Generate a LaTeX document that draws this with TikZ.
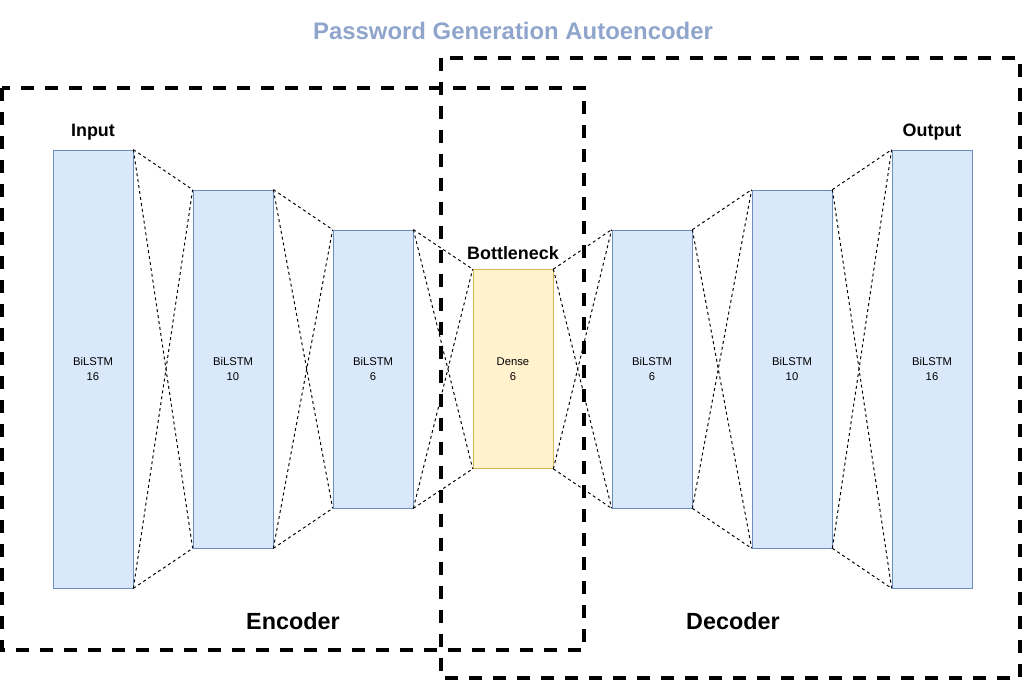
\documentclass[tikz,border=0pt]{standalone}
\usepackage{fontspec}
\setmainfont{Liberation Sans}
\usepackage{tikz}
\usetikzlibrary{positioning}

\definecolor{layerblue}{HTML}{DAE8FC}
\definecolor{layeredge}{HTML}{6C8EBF}
\definecolor{denseyellow}{HTML}{FFF2CC}
\definecolor{denseedge}{HTML}{D6B656}
\definecolor{titleblue}{HTML}{8FA5CB}

\begin{document}
\begin{tikzpicture}[
    layer/.style={draw=layeredge, fill=layerblue, minimum width=1.6cm, inner sep=0pt, align=center, font=\fontsize{6.4}{8.5}\selectfont},
    dense/.style={layer, draw=denseedge, fill=denseyellow},
    link/.style={line width=0.55pt, dash pattern=on 1.7pt off 1.7pt},
    group/.style={line width=0.08cm, dash pattern=on 0.26cm off 0.22cm},
    lbl/.style={inner sep=0pt, font=\fontsize{10.2}{12}\selectfont\bfseries},
    big/.style={font=\fontsize{13.3}{16}\selectfont\bfseries}
]
    \useasboundingbox (0,0) rectangle (20.48,13.62);

    \node[titleblue, big, font=\fontsize{13.6}{16}\selectfont\bfseries] (title) at (10.26,13.0) {Password Generation Autoencoder};

    % encoder side
    \node[layer, minimum height=8.76cm] (in) at (1.86,6.24) {BiLSTM\\16};
    \node[layer, minimum height=7.16cm] (enc1) at (4.66,6.24) {BiLSTM\\10};
    \node[layer, minimum height=5.56cm] (enc2) at (7.46,6.24) {BiLSTM\\6};

    % bottleneck
    \node[dense, minimum height=3.98cm] (neck) at (10.26,6.24) {Dense\\6};

    % decoder side
    \node[layer, minimum height=5.56cm] (dec2) at (13.04,6.24) {BiLSTM\\6};
    \node[layer, minimum height=7.16cm] (dec1) at (15.84,6.24) {BiLSTM\\10};
    \node[layer, minimum height=8.76cm] (out) at (18.64,6.24) {BiLSTM\\16};

    \node[lbl, above=0.18cm of in] (inlbl) {Input};
    \node[lbl, above=0.18cm of neck] (necklbl) {Bottleneck};
    \node[lbl, above=0.18cm of out] (outlbl) {Output};

    \foreach \a/\b in {in/enc1, enc1/enc2, enc2/neck, neck/dec2, dec2/dec1, dec1/out} {
        \draw[link] (\a.north east) -- (\b.north west);
        \draw[link] (\a.north east) -- (\b.south west);
        \draw[link] (\a.south east) -- (\b.north west);
        \draw[link] (\a.south east) -- (\b.south west);
    }

    % groups
    \draw[group] (0.04,11.86) rectangle (11.68,0.62);
    \draw[group] (8.82,12.46) rectangle (20.4,0.06);

    \node[big] (enclbl) at (5.86,1.2) {Encoder};
    \node[big] (declbl) at (14.66,1.2) {Decoder};
\end{tikzpicture}
\end{document}
